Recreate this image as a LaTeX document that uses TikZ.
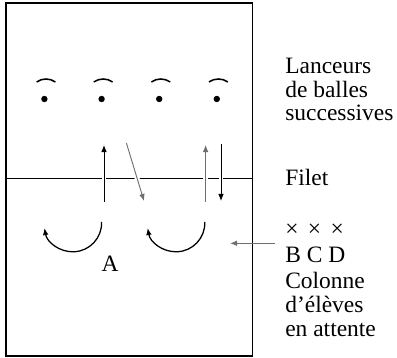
\documentclass[tikz,border=0pt]{standalone}
\usepackage{fontspec}
\setmainfont{Liberation Serif}
\usepackage{xcolor}
\definecolor{passgray}{HTML}{6E6E6E}
\usepackage{tikz}
\usetikzlibrary{arrows.meta,positioning,calc}

\begin{document}
\begin{tikzpicture}[
    court/.style={draw=black, line width=1pt},
    net/.style={draw=black, line width=0.7pt},
    move/.style={-{Latex[length=5pt,width=4pt]}, line width=0.65pt,
      preaction={draw=white, line width=3.5pt, -}},
    turn/.style={-{Latex[length=5pt,width=4pt]}, line width=0.9pt},
    lbl/.style={font=\fontsize{16.7}{17}\selectfont, align=left, anchor=base west, inner sep=0pt}
  ]
    \useasboundingbox (0,0) rectangle (9.925,8.95);

    % terrain et filet
    \draw[court] (0.15,0.05) rectangle (6.31,8.875);
    \coordinate (netL) at (0.15,4.5);
    \coordinate (netR) at (6.31,4.5);
    \draw[net] (netL) -- (netR);

    % lanceurs
    \foreach \x in {1.15,2.58,4.02,5.46} {
      \draw[line width=1.1pt] ([shift={(55:0.41)}]\x,6.565) arc[start angle=55, end angle=125, radius=0.41];
      \fill ($(\x,6.475)+(-0.04,0)$) circle (0.08);
    }

    % passes
    \coordinate (up1a) at (2.6,3.9);    \coordinate (up1b) at (2.6,5.325);
    \coordinate (diaga) at (3.16,5.375); \coordinate (diagb) at (3.6,3.925);
    \coordinate (up2a) at (5.14,3.9);   \coordinate (up2b) at (5.14,5.325);
    \coordinate (downa) at (5.525,5.35); \coordinate (downb) at (5.525,3.925);
    \draw[move] (up1a) -- (up1b);
    \draw[move, passgray] (diaga) -- (diagb);
    \draw[move, passgray] (up2a) -- (up2b);
    \draw[move] (downa) -- (downb);

    % rotations
    \draw[turn] (2.54,3.4) arc[start angle=2, end angle=-170, radius=0.72];
    \draw[turn] (5.12,3.4) arc[start angle=2, end angle=-170, radius=0.72];
    \node[font=\fontsize{16.7}{17}\selectfont, inner sep=0pt] (lblA) at (2.75,2.35) {A};

    % colonne
    \coordinate (queue) at (6.875,2.8675);
    \coordinate (entry) at (5.75,2.8675);
    \draw[-{Latex[length=5pt,width=4pt]}, passgray, line width=0.8pt] (queue) -- (entry);

    % legendes (base = derniere ligne)
    \node[lbl] (lanceurs) at (7.125,5.925) {Lanceurs\\de balles\\successives};
    \node[lbl] (filet) at (7.125,4.3) {Filet};
    \node[lbl] (croix) at (7.125,3.035) {×\hspace{0.4em}×\hspace{0.4em}×};
    \node[lbl] (bcd) at (7.125,2.375) {B C D};
    \node[lbl] (colonne) at (7.125,0.5375) {Colonne\\d’élèves\\en attente};
  \end{tikzpicture}
\end{document}
